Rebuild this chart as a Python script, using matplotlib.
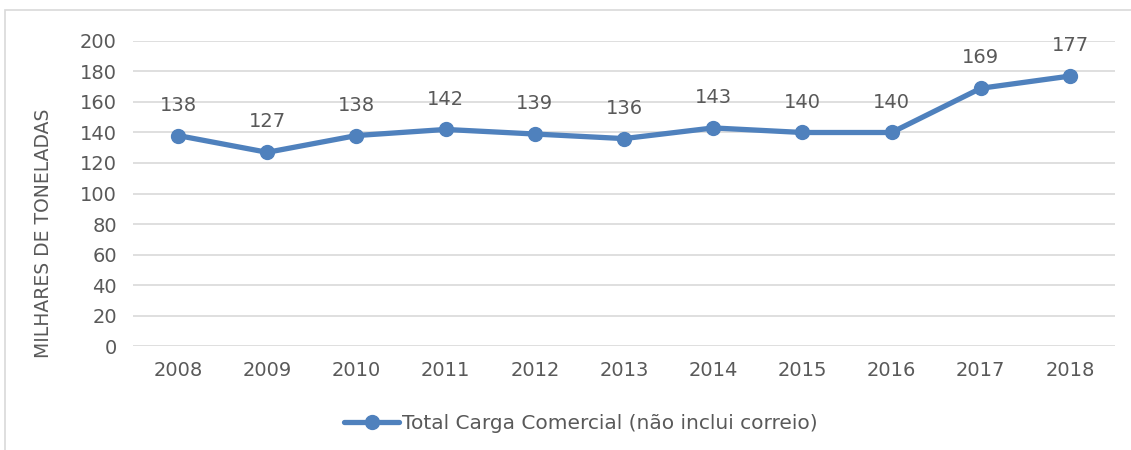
import matplotlib.pyplot as plt
from matplotlib.patches import Rectangle

anos = ['2008', '2009', '2010', '2011', '2012', '2013', '2014', '2015', '2016', '2017', '2018']
carga = [138, 127, 138, 142, 139, 136, 143, 140, 140, 169, 177]

azul = '#4f81bd'
cinza = '#595959'

plt.rcParams['font.family'] = ['DejaVu Sans']

fig = plt.figure(figsize=(11.31, 4.5), dpi=100)
ax = fig.add_axes([0.118, 0.2311, 0.8675, 0.6778])

# moldura do grafico (cortada na imagem original)
fig.patches.append(Rectangle((5 / 1131, -0.1), 1.2, 1 - 10 / 450 + 0.1,
                             transform=fig.transFigure, fill=False,
                             edgecolor='#d9d9d9', linewidth=1.2))

x = range(len(anos))
ax.plot(x, carga, color=azul, linewidth=3.8, marker='o', markersize=10,
        solid_capstyle='round', label='Total Carga Comercial (não inclui correio)')
for i, v in enumerate(carga):
    ax.annotate(str(v), (i, v), xytext=(0, 15), textcoords='offset points',
                ha='center', va='bottom', fontsize=14, color=cinza)

ax.set_xlim(-0.5, len(anos) - 0.5)
ax.set_ylim(0, 200)
ax.set_yticks(range(0, 201, 20))
ax.set_xticks(list(x))
ax.set_xticklabels(anos)
ax.grid(axis='y', color='#d9d9d9', linewidth=1.2)
ax.set_axisbelow(True)
for s in ax.spines.values():
    s.set_visible(False)
ax.tick_params(length=0, labelsize=14, labelcolor=cinza)
ax.tick_params(axis='x', pad=11)
ax.tick_params(axis='y', pad=12)
ax.set_ylabel('MILHARES DE TONELADAS', fontsize=13.5, color=cinza)
ax.yaxis.set_label_coords(-0.082, 0.37)

ax.legend(loc='upper center', bbox_to_anchor=(0.456, -0.165), frameon=False,
          fontsize=14.5, labelcolor=cinza, handlelength=2.7, handletextpad=0.15)

fig.savefig('out.png', dpi=100)
